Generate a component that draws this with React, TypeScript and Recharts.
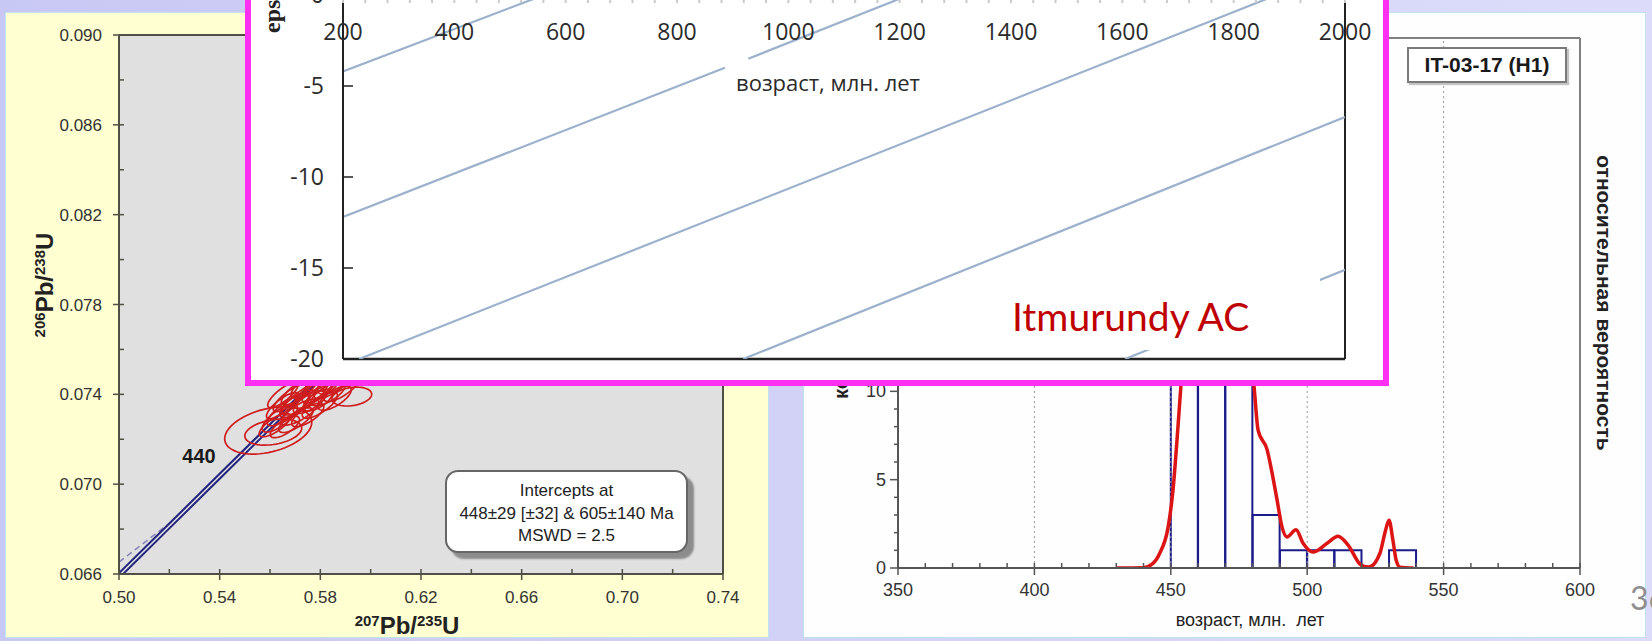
import React from 'react';
import {
  ComposedChart,
  Line,
  Scatter,
  Bar,
  XAxis,
  YAxis,
  CartesianGrid,
  ReferenceLine,
} from 'recharts';

const SANS = '"Liberation Sans", Arial, sans-serif';
const HUMANIST = '"Open Sans", sans-serif';

// ---------- U–Pb concordia diagram ----------
const pbXTicks = [0.5, 0.52, 0.54, 0.56, 0.58, 0.6, 0.62, 0.64, 0.66, 0.68, 0.7, 0.72, 0.74];
const pbYTicks = [0.066, 0.068, 0.07, 0.072, 0.074, 0.076, 0.078, 0.08, 0.082, 0.084, 0.086, 0.088, 0.09];

// concordia band (two edges) and the dashed decay-constant envelope
const concordiaUpper = [
  { x: 0.5, y: 0.06604 },
  { x: 0.52, y: 0.06825 },
  { x: 0.54, y: 0.07046 },
  { x: 0.56, y: 0.07267 },
  { x: 0.58, y: 0.07488 },
];
const concordiaLower = [
  { x: 0.5, y: 0.06582 },
  { x: 0.52, y: 0.06803 },
  { x: 0.54, y: 0.07024 },
  { x: 0.56, y: 0.07245 },
  { x: 0.58, y: 0.07466 },
];
const concordiaEnvelope = [
  { x: 0.5, y: 0.06653 },
  { x: 0.511, y: 0.06748 },
  { x: 0.522, y: 0.06843 },
];

// zircon analyses: centre, 2σ half-widths and error correlation
const zircons = [
  { x: 0.5593, y: 0.07239, sx: 0.0173, sy: 0.00105, rho: 0.35 },
  { x: 0.5613, y: 0.07232, sx: 0.0113, sy: 0.00058, rho: 0.3 },
  { x: 0.5925, y: 0.0739, sx: 0.0079, sy: 0.00042, rho: 0.25 },
  { x: 0.5639, y: 0.07294, sx: 0.007, sy: 0.00062, rho: 0.75 },
  { x: 0.5671, y: 0.0733, sx: 0.0082, sy: 0.0007, rho: 0.8 },
  { x: 0.5699, y: 0.07352, sx: 0.006, sy: 0.00055, rho: 0.7 },
  { x: 0.5719, y: 0.07321, sx: 0.0075, sy: 0.00058, rho: 0.75 },
  { x: 0.5738, y: 0.07383, sx: 0.009, sy: 0.00075, rho: 0.8 },
  { x: 0.5758, y: 0.07365, sx: 0.0065, sy: 0.0005, rho: 0.7 },
  { x: 0.5778, y: 0.0741, sx: 0.0085, sy: 0.00072, rho: 0.8 },
  { x: 0.579, y: 0.07374, sx: 0.0058, sy: 0.00048, rho: 0.65 },
  { x: 0.5806, y: 0.07428, sx: 0.0078, sy: 0.00066, rho: 0.78 },
  { x: 0.583, y: 0.07401, sx: 0.0068, sy: 0.00052, rho: 0.7 },
  { x: 0.5846, y: 0.07441, sx: 0.0072, sy: 0.0006, rho: 0.75 },
  { x: 0.5869, y: 0.07463, sx: 0.008, sy: 0.00062, rho: 0.72 },
  { x: 0.5679, y: 0.07383, sx: 0.0066, sy: 0.0006, rho: 0.8 },
  { x: 0.5719, y: 0.07419, sx: 0.0074, sy: 0.00066, rho: 0.8 },
  { x: 0.5766, y: 0.07454, sx: 0.0082, sy: 0.0007, rho: 0.78 },
  { x: 0.5818, y: 0.07481, sx: 0.0076, sy: 0.00064, rho: 0.75 },
  { x: 0.565, y: 0.0735, sx: 0.0064, sy: 0.00058, rho: 0.8 },
  { x: 0.5619, y: 0.07263, sx: 0.0062, sy: 0.00052, rho: 0.75 },
  { x: 0.5659, y: 0.07255, sx: 0.0058, sy: 0.00048, rho: 0.7 },
  { x: 0.5703, y: 0.07285, sx: 0.0068, sy: 0.00055, rho: 0.75 },
  { x: 0.575, y: 0.07308, sx: 0.0064, sy: 0.00052, rho: 0.72 },
  { x: 0.5798, y: 0.07352, sx: 0.007, sy: 0.00058, rho: 0.75 },
  { x: 0.5857, y: 0.07383, sx: 0.0066, sy: 0.00054, rho: 0.7 },
  { x: 0.5885, y: 0.07428, sx: 0.0072, sy: 0.0006, rho: 0.75 },
  { x: 0.5651, y: 0.07397, sx: 0.006, sy: 0.00056, rho: 0.8 },
];

const interceptText = ['Intercepts at', '448±29 [±32] & 605±140 Ma', 'MSWD = 2.5'];

// ---------- εHf – age diagram ----------
const evoLabelTicks = [200, 400, 600, 800, 1000, 1200, 1400, 1600, 1800, 2000];
const evoMinorStep = 40;
const evoYTicks = [0, -5, -10, -15, -20];

const evoLineA = [
  { age: 200, eps: -4.2 },
  { age: 561, eps: 0 },
];
const evoLineB1 = [
  { age: 200, eps: -12.2 },
  { age: 886, eps: -4.0 },
];
const evoLineB2 = [
  { age: 928, eps: -3.5 },
  { age: 1217, eps: 0 },
];
const evoLineC = [
  { age: 229, eps: -20 },
  { age: 1877, eps: 0 },
];
const evoLineD = [
  { age: 919, eps: -20 },
  { age: 2000, eps: -6.7 },
];
const evoLineE = [
  { age: 1605, eps: -20 },
  { age: 2000, eps: -15.1 },
];

// ---------- age histogram + probability density ----------
const histBinStart = [350, 360, 370, 380, 390, 400, 410, 420, 430, 440, 450, 460, 470, 480, 490, 500, 510, 520, 530, 540, 550, 560, 570, 580, 590];
const histCount = [null, null, null, null, null, null, null, null, null, null, 14, 18, 13, 3, 1, 1, 1, null, 1, null, null, null, null, null, null];
const kdeAge = [430, 440, 443, 446, 449, 450.8, 452.3, 453.7, 456, 460, 465, 470, 475, 478, 480.5, 482, 485.3, 487.1, 488.9, 490.8, 492.6, 495.9, 498.5, 502.1, 507.3, 511.3, 515, 519.7, 522.6, 526.7, 528.5, 530, 531.4, 532.6, 534, 539];
const kdeProb = [0, 0.02, 0.2, 0.85, 2.3, 4.4, 7.3, 10.3, 15, 19, 21, 20, 17, 13.5, 10.3, 7.8, 6.7, 5.4, 3.9, 2.3, 1.76, 2.16, 1.4, 0.9, 1.4, 1.8, 1.3, 0.17, 0.05, 0.85, 2.0, 2.7, 1.6, 0.45, 0.05, 0];
const histXTicks = [350, 360, 370, 380, 390, 400, 410, 420, 430, 440, 450, 460, 470, 480, 490, 500, 510, 520, 530, 540, 550, 560, 570, 580, 590, 600];
const histYTicks = [0, 1, 2, 3, 4, 5, 6, 7, 8, 9, 10, 11, 12, 13, 14, 15, 16, 17, 18, 19, 20, 21, 22, 23, 24, 25, 26, 27, 28, 29, 30];
const histGrid = [400, 450, 500, 550];
const sampleName = 'IT-03-17 (H1)';

const histData = histBinStart.map((b, i) => ({ bin: b, count: histCount[i] }));
const kdeData = kdeAge.map((a, i) => ({ age: a, p: kdeProb[i] }));

// ---------- layout ----------
const PB = { w: 769, h: 641, m: { top: 35, right: 46, left: 59, bottom: 37 }, yw: 60, xh: 30 };
const PB_PLOT_W = PB.w - PB.m.left - PB.m.right - PB.yw;
const PB_PLOT_H = PB.h - PB.m.top - PB.m.bottom - PB.xh;
const PB_KX = PB_PLOT_W / (0.74 - 0.5);
const PB_KY = PB_PLOT_H / (0.09 - 0.066);

const pbAxis = '#4f4f45';

const PbXTick = (props: any) => {
  const { x, y, payload } = props;
  const v = payload.value as number;
  const major = Math.round(v * 100) % 4 === 2;
  return (
    <g>
      <line x1={x} x2={x} y1={y - 5} y2={major ? y + 6 : y} stroke={pbAxis} strokeWidth={1.5} />
      {major && (
        <text x={x} y={y + 29} textAnchor="middle" fontFamily={SANS} fontSize={17} fill="#333">
          {v.toFixed(2)}
        </text>
      )}
    </g>
  );
};

const PbYTick = (props: any) => {
  const { x, y, payload } = props;
  const v = payload.value as number;
  const major = Math.round(v * 1000) % 4 === 2;
  return (
    <g>
      <line x1={major ? x - 6 : x} x2={x + 5} y1={y} y2={y} stroke={pbAxis} strokeWidth={1.5} />
      {major && (
        <text x={x - 17} y={y + 6} textAnchor="end" fontFamily={SANS} fontSize={17} fill="#333">
          {v.toFixed(3)}
        </text>
      )}
    </g>
  );
};

const ErrorEllipse = (props: any) => {
  const { cx, cy, payload } = props;
  if (cx == null || cy == null) return <g />;
  const ax = payload.sx * PB_KX;
  const ay = payload.sy * PB_KY;
  const r = payload.rho;
  const s = Math.sqrt(1 - r * r);
  let d = '';
  for (let i = 0; i <= 64; i++) {
    const t = (i / 64) * Math.PI * 2;
    const px = cx + ax * Math.cos(t);
    const py = cy - ay * (r * Math.cos(t) + s * Math.sin(t));
    d += (i ? 'L' : 'M') + px.toFixed(2) + ',' + py.toFixed(2);
  }
  return <path d={d + 'Z'} fill="none" stroke="#cf1d1d" strokeWidth={1.7} />;
};

const EvoXTick = (props: any) => {
  const { x, y, payload } = props;
  const v = payload.value as number;
  const labelled = evoLabelTicks.includes(v);
  return (
    <g>
      <line x1={x} x2={x} y1={y} y2={y + 8} stroke="#cacaca" strokeWidth={2} />
      {labelled && (
        <text x={x} y={y + 45} textAnchor="middle" fontFamily={HUMANIST} fontSize={23} fill="#2b2b2b">
          {v}
        </text>
      )}
    </g>
  );
};

const EvoYTick = (props: any) => {
  const { x, y, payload } = props;
  return (
    <g>
      <line x1={x} x2={x + 10} y1={y} y2={y} stroke="#222" strokeWidth={1.5} />
      <text x={x - 19} y={y + 8} textAnchor="end" fontFamily={HUMANIST} fontSize={23} fill="#2b2b2b">
        {payload.value}
      </text>
    </g>
  );
};

const histAxis = '#555';

const HistXTick = (props: any) => {
  const { x, y, payload } = props;
  const v = payload.value as number;
  const major = v % 50 === 0;
  return (
    <g>
      <line x1={x} x2={x} y1={y - 5} y2={major ? y + 7 : y} stroke={histAxis} strokeWidth={1.5} />
      {major && (
        <text x={x} y={y + 28} textAnchor="middle" fontFamily={SANS} fontSize={18} fill="#333">
          {v}
        </text>
      )}
    </g>
  );
};

const HistYTick = (props: any) => {
  const { x, y, payload } = props;
  const v = payload.value as number;
  const major = v % 5 === 0;
  return (
    <g>
      <line x1={major ? x - 8 : x - 4} x2={x} y1={y} y2={y} stroke={histAxis} strokeWidth={1.5} />
      {major && (
        <text x={x - 12} y={y + 6} textAnchor="end" fontFamily={SANS} fontSize={18} fill="#333">
          {v}
        </text>
      )}
    </g>
  );
};

const abs = (left: number, top: number, width: number, height: number): React.CSSProperties => ({
  position: 'absolute',
  left,
  top,
  width,
  height,
});

export default function App() {
  const evoTicks: number[] = [];
  for (let a = 200; a <= 2000; a += evoMinorStep) evoTicks.push(a);

  return (
    <div
      style={{
        position: 'absolute',
        left: 0,
        top: 0,
        width: 1652,
        height: 641,
        overflow: 'hidden',
        background: 'linear-gradient(90deg, #c8c8f4 0%, #d3d3f7 55%, #dcdcfa 100%)',
      }}
    >
      {/* tail of the slide heading */}
      <svg style={{ ...abs(0, 0, 200, 20), pointerEvents: 'none' }}>
        <text x={78} y={-6} fontFamily='Lato, sans-serif' fontSize={30} fill="#e01010">р</text>
      </svg>

      {/* concordia panel */}
      <div style={{ ...abs(5, 12, 764, 626), background: '#ffffd2', border: '1px solid #bfe4ee', boxSizing: 'border-box' }} />
      <div style={abs(0, 0, PB.w, PB.h)}>
        <ComposedChart width={PB.w} height={PB.h} margin={PB.m}>
          <CartesianGrid fill="#e0e0e0" horizontal={false} vertical={false} stroke="none" />
          <XAxis
            type="number"
            dataKey="x"
            domain={[0.5, 0.74]}
            ticks={pbXTicks}
            interval={0}
            allowDataOverflow
            height={PB.xh}
            tickSize={0}
            tickMargin={0}
            tickLine={false}
            axisLine={{ stroke: pbAxis, strokeWidth: 2 }}
            tick={(p: any) => <PbXTick {...p} />}
          />
          <YAxis
            type="number"
            dataKey="y"
            domain={[0.066, 0.09]}
            ticks={pbYTicks}
            interval={0}
            allowDataOverflow
            width={PB.yw}
            tickSize={0}
            tickMargin={0}
            tickLine={false}
            axisLine={{ stroke: pbAxis, strokeWidth: 2 }}
            tick={(p: any) => <PbYTick {...p} />}
          />
          <ReferenceLine x={0.74} stroke={pbAxis} strokeWidth={2} />
          <ReferenceLine y={0.09} stroke={pbAxis} strokeWidth={2} />
          <Line data={concordiaEnvelope} dataKey="y" stroke="#8080b8" strokeWidth={1.5} strokeDasharray="6 4" dot={false} isAnimationActive={false} type="linear" />
          <Line data={concordiaUpper} dataKey="y" stroke="#23237e" strokeWidth={2} dot={false} isAnimationActive={false} type="linear" />
          <Line data={concordiaLower} dataKey="y" stroke="#23237e" strokeWidth={2} dot={false} isAnimationActive={false} type="linear" />
          <Scatter data={zircons} dataKey="y" shape={(p: any) => <ErrorEllipse {...p} />} isAnimationActive={false} />
        </ComposedChart>
      </div>
      <svg style={{ ...abs(0, 0, 769, 641), pointerEvents: 'none' }}>
        <text transform="translate(53,285) rotate(-90)" textAnchor="middle" fontFamily={SANS} fontWeight="bold" fill="#222">
          <tspan fontSize={15} dy={-8}>206</tspan>
          <tspan fontSize={24} dy={8}>Pb/</tspan>
          <tspan fontSize={15} dy={-8}>238</tspan>
          <tspan fontSize={24} dy={8}>U</tspan>
        </text>
        <text x={407} y={634} textAnchor="middle" fontFamily={SANS} fontWeight="bold" fill="#222">
          <tspan fontSize={15} dy={-8}>207</tspan>
          <tspan fontSize={24} dy={8}>Pb/</tspan>
          <tspan fontSize={15} dy={-8}>235</tspan>
          <tspan fontSize={24} dy={8}>U</tspan>
        </text>
        <text x={199} y={463} textAnchor="middle" fontFamily={SANS} fontWeight="bold" fontSize={20} fill="#1a1a1a">440</text>
      </svg>
      <div
        style={{
          ...abs(445, 470, 243, 83),
          boxSizing: 'border-box',
          background: '#fff',
          border: '2px solid #666',
          borderRadius: 13,
          boxShadow: '6px 6px 2px #8c8c8c',
          fontFamily: SANS,
          fontSize: 17,
          color: '#222',
          textAlign: 'center',
          lineHeight: '22.5px',
          paddingTop: 8,
        }}
      >
        {interceptText.map((t) => (
          <div key={t}>{t}</div>
        ))}
      </div>

      {/* age spectrum panel */}
      <div style={{ ...abs(803, 12, 843, 626), background: '#fefefe', border: '1px solid #bfe4ee', boxSizing: 'border-box' }} />
      <div style={abs(803, 12, 843, 626)}>
        <ComposedChart width={843} height={626} data={histData} margin={{ top: 26, right: 66, left: 35, bottom: 40 }} barCategoryGap={0} barGap={0}>
          <XAxis xAxisId="bins" dataKey="bin" type="category" hide />
          <XAxis
            xAxisId="age"
            dataKey="age"
            type="number"
            domain={[350, 600]}
            ticks={histXTicks}
            interval={0}
            allowDataOverflow
            height={30}
            tickSize={0}
            tickMargin={0}
            tickLine={false}
            axisLine={{ stroke: histAxis, strokeWidth: 2 }}
            tick={(p: any) => <HistXTick {...p} />}
          />
          <YAxis
            type="number"
            domain={[0, 30]}
            ticks={histYTicks}
            interval={0}
            allowDataOverflow
            width={60}
            tickSize={0}
            tickMargin={0}
            tickLine={false}
            axisLine={{ stroke: histAxis, strokeWidth: 2 }}
            tick={(p: any) => <HistYTick {...p} />}
          />
          {histGrid.map((g) => (
            <ReferenceLine key={g} xAxisId="age" x={g} stroke="#9a9a9a" strokeWidth={1} strokeDasharray="2 3" />
          ))}
          <ReferenceLine xAxisId="age" x={600} stroke="#808080" strokeWidth={2} />
          <ReferenceLine xAxisId="age" y={30} stroke="#808080" strokeWidth={2} />
          <Bar xAxisId="bins" dataKey="count" fill="none" stroke="#1b1b8a" strokeWidth={2} isAnimationActive={false} />
          <Line xAxisId="age" data={kdeData} dataKey="p" type="monotone" stroke="#dc1414" strokeWidth={3.5} dot={false} isAnimationActive={false} />
        </ComposedChart>
      </div>
      <svg style={{ ...abs(0, 0, 1652, 641), pointerEvents: 'none' }}>
        <text transform="translate(848,399) rotate(-90)" textAnchor="start" fontFamily={SANS} fontWeight="bold" fontSize={20} fill="#222">количество</text>
        <text transform="translate(1597,303) rotate(90)" textAnchor="middle" fontFamily={SANS} fontWeight="bold" fontSize={21} fill="#222">относительная вероятность</text>
        <text x={1250} y={626} textAnchor="middle" fontFamily={SANS} fontSize={18} fill="#222" style={{ whiteSpace: 'pre' }}>возраст, млн.  лет</text>
      </svg>
      <div
        style={{
          ...abs(1407, 47, 160, 36),
          boxSizing: 'border-box',
          background: '#fff',
          border: '2px solid #7a7a7a',
          boxShadow: '2px 2px 1px #c4c4c4',
          fontFamily: SANS,
          fontWeight: 'bold',
          fontSize: 21,
          color: '#1a1a1a',
          textAlign: 'center',
          lineHeight: '32px',
          whiteSpace: 'nowrap',
        }}
      >
        {sampleName}
      </div>

      {/* εHf inset */}
      <div style={{ ...abs(245, -20, 1144, 406), boxSizing: 'border-box', border: '6px solid #ff30f2', background: '#fff' }} />
      <div style={abs(251, -60, 1132, 440)}>
        <ComposedChart width={1132} height={440} margin={{ top: 15, right: 38, left: 32, bottom: 21 }}>
          <XAxis
            orientation="top"
            type="number"
            dataKey="age"
            domain={[200, 2000]}
            ticks={evoTicks}
            interval={0}
            allowDataOverflow
            height={40}
            tickSize={0}
            tickMargin={0}
            tickLine={false}
            axisLine={{ stroke: '#222', strokeWidth: 2 }}
            tick={(p: any) => <EvoXTick {...p} />}
          />
          <YAxis
            type="number"
            dataKey="eps"
            domain={[-20, 0]}
            ticks={evoYTicks}
            interval={0}
            allowDataOverflow
            width={60}
            tickSize={0}
            tickMargin={0}
            tickLine={false}
            axisLine={{ stroke: '#222', strokeWidth: 2 }}
            tick={(p: any) => <EvoYTick {...p} />}
          />
          <ReferenceLine y={-20} stroke="#222" strokeWidth={2.5} />
          <ReferenceLine x={2000} stroke="#222" strokeWidth={2} />
          {[evoLineA, evoLineB1, evoLineB2, evoLineC, evoLineD, evoLineE].map((seg, i) => (
            <Line key={i} data={seg} dataKey="eps" type="linear" stroke="#9bb1cc" strokeWidth={2.2} dot={false} isAnimationActive={false} />
          ))}
        </ComposedChart>
      </div>
      <svg style={{ ...abs(0, 0, 1652, 641), pointerEvents: 'none' }}>
        <text transform="translate(280,33) rotate(-90)" textAnchor="start" fontFamily='"Liberation Serif", serif' fontWeight="bold" fontSize={24} fill="#222">epsHf</text>
        <text x={828} y={91} textAnchor="middle" fontFamily={HUMANIST} fontSize={22} fill="#2b2b2b">возраст, млн. лет</text>
        <rect x={1003} y={264} width={317} height={86} fill="#fff" />
        <text x={1012} y={331} fontFamily="Lato, sans-serif" fontSize={39} fill="#c00000">Itmurundy AC</text>
      </svg>

      {/* slide number */}
      <div style={{ ...abs(1630, 578, 60, 40), fontFamily: 'Lato, sans-serif', fontSize: 32, color: '#8e8e8e' }}>36</div>
    </div>
  );
}
